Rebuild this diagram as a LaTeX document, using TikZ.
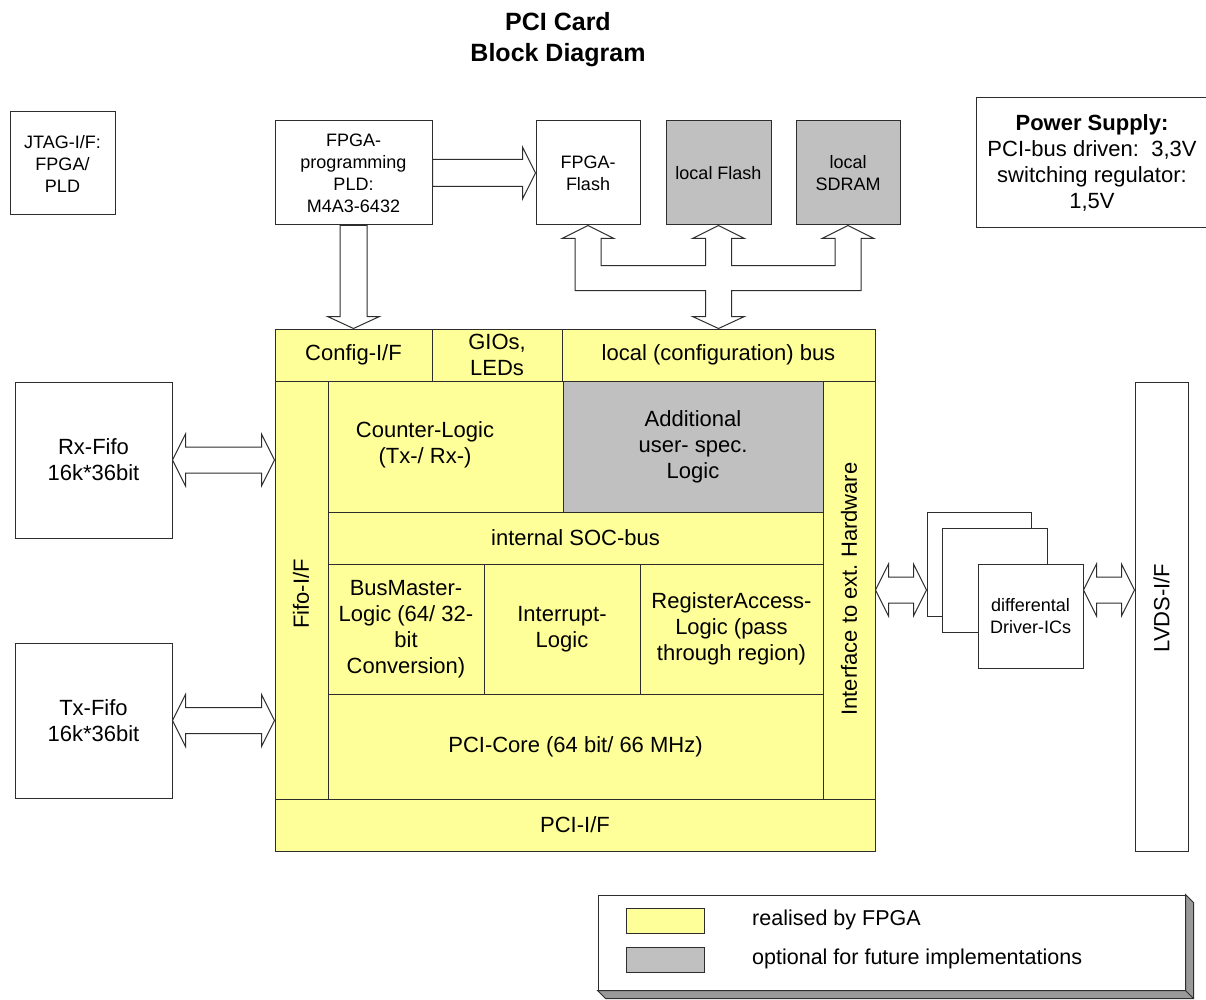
\documentclass[tikz,border=0pt]{standalone}
\usepackage{fontspec}
\setmainfont{Liberation Sans}
\usetikzlibrary{calc}
\frenchspacing
\definecolor{fpgay}{RGB}{255,255,153}
\definecolor{optg}{RGB}{192,192,192}
\definecolor{lc}{RGB}{45,45,45}
\newcommand\fbig{\fontsize{22}{26}\selectfont}
\newcommand\fsml{\fontsize{18}{22}\selectfont}
\newcommand\fttl{\fontsize{25}{31}\selectfont\bfseries}
\newcommand\fleg{\fontsize{21.5}{26}\selectfont}
% box by corners: options, name, x1, y1, x2, y2, text
\newcommand\cbox[7]{%
  \pgfmathsetmacro\cbw{#5-#3}\pgfmathsetmacro\cbh{#6-#4}%
  \pgfmathsetmacro\cbx{(#3+#5)/2}\pgfmathsetmacro\cby{(#4+#6)/2}%
  \node[#1, minimum width=\cbw pt, minimum height=\cbh pt] (#2) at (\cbx,\cby) {#7};}
% horizontal double block arrow from #1 (left tip) to #2 (right tip)
\newcommand\dblharrow[2]{\draw[barrow] let \p1=#1, \p2=#2 in
  (\x1,\y1) -- (\x1+13pt,\y1+26pt) -- (\x1+13pt,\y1+13pt) -- (\x2-13pt,\y1+13pt)
  -- (\x2-13pt,\y1+26pt) -- (\x2,\y1) -- (\x2-13pt,\y1-26pt) -- (\x2-13pt,\y1-13pt)
  -- (\x1+13pt,\y1-13pt) -- (\x1+13pt,\y1-26pt) -- cycle;}
% horizontal single block arrow
\newcommand\sglharrow[2]{\draw[barrow] let \p1=#1, \p2=#2 in
  (\x1,\y1+13.5pt) -- (\x2-13pt,\y1+13.5pt) -- (\x2-13pt,\y1+26pt) -- (\x2,\y1)
  -- (\x2-13pt,\y1-26pt) -- (\x2-13pt,\y1-13.5pt) -- (\x1,\y1-13.5pt) -- cycle;}
% vertical single block arrow (downwards)
\newcommand\sglvarrow[2]{\draw[barrow] let \p1=#1, \p2=#2 in
  (\x1-13.5pt,\y1) -- (\x1-13.5pt,\y2+12pt) -- (\x1-26pt,\y2+12pt) -- (\x1,\y2)
  -- (\x1+26pt,\y2+12pt) -- (\x1+13.5pt,\y2+12pt) -- (\x1+13.5pt,\y1) -- cycle;}

\begin{document}
\begin{tikzpicture}[x=1pt,y=-1pt,
  box/.style={draw=lc, line width=1pt, fill=white, inner sep=0pt, align=center},
  cell/.style={box, fill=fpgay, font=\fbig},
  opt/.style={fill=optg},
  barrow/.style={draw=lc, line width=1pt, fill=white, line join=miter},
  txt/.style={inner sep=0pt, align=center, font=\fbig}]
\useasboundingbox (0,0) rectangle (1206,1000);

% title
\node[txt, font=\fttl] (title) at (558,40) {PCI Card\\Block Diagram};

% FPGA block
\cbox{cell}{fpga}{275}{329}{875}{851}{}
\cbox{cell}{config}{275}{329}{432}{381}{Config-I/F}
\cbox{cell}{gio}{432}{329}{562}{381}{GIOs,\\LEDs}
\cbox{cell}{localbus}{562}{329}{875}{381}{local (configuration) bus}
\cbox{cell}{fifoif}{275}{381}{328}{799}{}
\node[txt, rotate=90] (fifoT) at (301,594) {Fifo-I/F};
\cbox{cell}{counter}{328}{381}{563}{512}{}
\node[txt] (counterT) at (425,445) {Counter-Logic\\(Tx-/ Rx-)};
\cbox{cell, opt}{addl}{563}{381}{823}{512}{Additional\\user- spec.\\Logic}
\cbox{cell}{iface}{823}{381}{875}{799}{}
\node[txt, rotate=90] (ifaceT) at (849,589) {Interface to ext. Hardware};
\cbox{cell}{soc}{328}{512}{823}{564}{internal SOC-bus}
\cbox{cell}{busm}{328}{564}{484}{694}{BusMaster-\\Logic (64/ 32-\\bit\\Conversion)}
\cbox{cell}{intr}{484}{564}{640}{694}{Interrupt-\\Logic}
\cbox{cell}{rega}{640}{564}{823}{694}{RegisterAccess-\\Logic (pass\\through region)}
\cbox{cell}{core}{328}{694}{823}{799}{PCI-Core (64 bit/ 66 MHz)}
\cbox{cell}{pciif}{275}{799}{875}{851}{PCI-I/F}

% other boxes
\cbox{box, font=\fsml}{jtag}{10}{112}{115}{215}{JTAG-I/F:\\FPGA/\\PLD}
\cbox{box, font=\fsml}{pld}{275}{121}{432}{225}{FPGA-\\programming\\PLD:\\M4A3-6432}
\cbox{box, font=\fsml}{flash}{536}{121}{640}{225}{FPGA-\\Flash}
\cbox{box, opt, font=\fsml}{lflash}{666}{121}{771}{225}{local Flash}
\cbox{box, opt, font=\fsml}{sdram}{796}{121}{900}{225}{local\\SDRAM}
\cbox{box, font=\fbig}{power}{976}{98}{1208}{228}{\textbf{Power Supply:}\\PCI-bus driven:\ \ 3,3V\\switching regulator:\\1,5V}
\cbox{box, font=\fbig}{rx}{15}{382}{172}{538}{Rx-Fifo\\16k*36bit}
\cbox{box, font=\fbig}{tx}{15}{643}{172}{798}{Tx-Fifo\\16k*36bit}
\cbox{box}{drv3}{927}{512}{1031}{616}{}
\cbox{box}{drv2}{942}{528}{1047}{632}{}
\cbox{box, font=\fsml}{drv1}{978}{564}{1083}{668}{differental\\Driver-ICs}
\cbox{box}{lvds}{1135}{382}{1188}{851}{}
\node[txt, rotate=90] (lvdsT) at (1161.5,608) {LVDS-I/F};

% block arrows
\sglharrow{(pld.east)}{(flash.west)}
\sglvarrow{(pld.south)}{(pld.south |- fpga.north)}
\dblharrow{(rx.east)}{(fifoif.west |- rx.east)}
\dblharrow{(tx.east)}{(fifoif.west |- tx.east)}
\dblharrow{(iface.east)}{(drv3.west |- iface.east)}
\dblharrow{(drv1.east |- iface.east)}{(lvds.west |- iface.east)}

% local bus
\draw[barrow] let \p1=(flash.south), \p2=(lflash.south), \p3=(sdram.south), \p4=(localbus.north) in
  (\x1,\y1) -- (\x1+26pt,\y1-13pt) -- (\x1+13pt,\y1-13pt) -- (\x1+13pt,\y1-40pt)
  -- (\x2-13pt,\y1-40pt) -- (\x2-13pt,\y1-13pt) -- (\x2-26pt,\y1-13pt) -- (\x2,\y1)
  -- (\x2+26pt,\y1-13pt) -- (\x2+13pt,\y1-13pt) -- (\x2+13pt,\y1-40pt)
  -- (\x3-13pt,\y1-40pt) -- (\x3-13pt,\y1-13pt) -- (\x3-26pt,\y1-13pt) -- (\x3,\y1)
  -- (\x3+26pt,\y1-13pt) -- (\x3+13pt,\y1-13pt) -- (\x3+13pt,\y1-65pt)
  -- (\x4+13pt,\y1-65pt) -- (\x4+13pt,\y4+12pt) -- (\x4+26pt,\y4+12pt) -- (\x4,\y4)
  -- (\x4-26pt,\y4+12pt) -- (\x4-13pt,\y4+12pt) -- (\x4-13pt,\y1-65pt)
  -- (\x1-13pt,\y1-65pt) -- (\x1-13pt,\y1-13pt) -- (\x1-26pt,\y1-13pt) -- cycle;

% legend
\cbox{box}{legend}{598}{895}{1185}{990}{}
\draw[draw=lc, line width=1pt, fill=black!40, line join=miter]
  (legend.north east) -- ++(8,8) -- ($(legend.south east)+(8,8)$)
  -- ($(legend.south west)+(8,8)$) -- (legend.south west) -- (legend.south east) -- cycle;
\draw[lc, line width=1pt] (legend.south east) -- ++(8,8);
\cbox{box, fill=fpgay}{sw1}{626}{908}{704}{933}{}
\cbox{box, opt}{sw2}{626}{947}{704}{972}{}
\node[txt, font=\fleg, anchor=west] (leg1) at (752,920) {realised by FPGA};
\node[txt, font=\fleg, anchor=west] (leg2) at (752,959) {optional for future implementations};
\end{tikzpicture}
\end{document}
